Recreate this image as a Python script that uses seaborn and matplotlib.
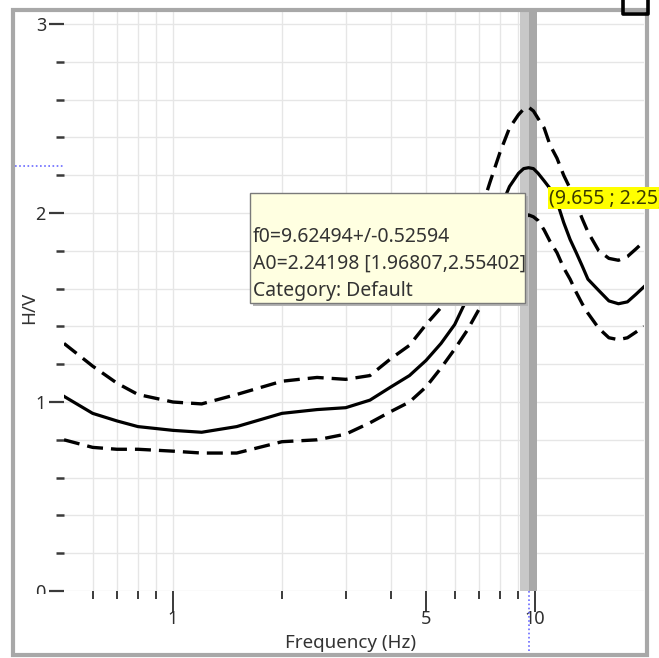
import numpy as np
import pandas as pd
import seaborn as sns
import matplotlib.pyplot as plt
from matplotlib.patches import Rectangle
from matplotlib.lines import Line2D
from matplotlib.ticker import NullFormatter

# H/V curve
freq = [0.5, 0.6, 0.7, 0.8, 1.0, 1.2, 1.5, 2.0, 2.5, 3.0, 3.5, 4.0, 4.5, 5.0, 5.5, 6.0, 6.5, 7.0, 7.5,
        8.0, 8.5, 9.0, 9.3, 9.6, 9.9, 10.2, 10.6, 11, 11.5, 12, 12.5, 13, 13.5, 14, 15, 16, 17, 18, 19, 20]
hv_median = [1.03, 0.94, 0.90, 0.87, 0.85, 0.84, 0.87, 0.94, 0.96, 0.97, 1.01, 1.08, 1.14, 1.22, 1.31,
             1.41, 1.55, 1.72, 1.88, 2.02, 2.14, 2.21, 2.235, 2.24, 2.235, 2.21, 2.17, 2.13, 2.06,
             1.95, 1.86, 1.79, 1.72, 1.65, 1.59, 1.535, 1.52, 1.53, 1.57, 1.61]
hv_upper = [1.31, 1.19, 1.10, 1.04, 1.00, 0.99, 1.04, 1.11, 1.13, 1.12, 1.14, 1.23, 1.30, 1.41, 1.50,
            1.66, 1.82, 1.98, 2.16, 2.32, 2.45, 2.52, 2.55, 2.56, 2.54, 2.50, 2.45, 2.36, 2.29,
            2.20, 2.13, 2.05, 1.97, 1.90, 1.80, 1.76, 1.75, 1.77, 1.81, 1.85]
hv_lower = [0.80, 0.76, 0.75, 0.75, 0.74, 0.73, 0.73, 0.79, 0.80, 0.83, 0.89, 0.95, 1.00, 1.08, 1.18,
            1.28, 1.38, 1.49, 1.63, 1.75, 1.85, 1.94, 1.97, 1.99, 1.98, 1.96, 1.91, 1.85, 1.79,
            1.71, 1.65, 1.58, 1.52, 1.47, 1.39, 1.34, 1.33, 1.34, 1.37, 1.40]

f0 = 9.62494
f0_std = 0.52594
a0, a0_lo, a0_hi = 2.24198, 1.96807, 2.55402
cursor_f, cursor_a = 9.655, 2.25

df = pd.DataFrame({'freq': freq, 'median': hv_median, 'upper': hv_upper, 'lower': hv_lower})

plt.rcParams['font.family'] = ['Noto Sans', 'DejaVu Sans']
W, H = 659, 658
fig = plt.figure(figsize=(W / 100, H / 100), dpi=100)
ax = fig.add_axes([64 / W, 1 - 591 / H, 580 / W, 583 / H])

# f0 +/- std band
ax.axvspan(f0 - f0_std, f0, color='#c8c8c8', lw=0, zorder=1)
ax.axvspan(f0, f0 + f0_std, color='#a8a8a8', lw=0, zorder=1)

# courbes
sns.lineplot(data=df, x='freq', y='median', ax=ax, color='black', linewidth=2.3, zorder=3)
sns.lineplot(data=df, x='freq', y='upper', ax=ax, color='black', linewidth=2.4,
             linestyle=(0, (4.8, 2.4)), zorder=3)
sns.lineplot(data=df, x='freq', y='lower', ax=ax, color='black', linewidth=2.4,
             linestyle=(0, (4.8, 2.4)), zorder=3)

ax.set_xscale('log')
ax.set_xlim(0.5, 20)
ax.set_ylim(0, 3.085)

ax.set_xticks([1, 5, 10])
ax.set_xticklabels(['1', '5', '10'], fontsize=13)
ax.set_xticks([0.6, 0.7, 0.8, 0.9, 2, 3, 4, 6, 7, 8, 9], minor=True)
ax.xaxis.set_minor_formatter(NullFormatter())
ax.set_yticks([0, 1, 2, 3])
ax.set_yticklabels(['0', '1', '2', '3'], fontsize=13)
ax.set_yticks([v / 5 for v in range(1, 15) if v % 5], minor=True)

ax.tick_params(axis='x', which='major', length=15, width=1.4, color='#3a3a3a', pad=-1,
               labelcolor='#2e2e2e')
ax.tick_params(axis='x', which='minor', length=6, width=1.4, color='#3a3a3a')
ax.tick_params(axis='y', which='major', length=11, width=1.6, color='#3a3a3a', pad=2,
               labelcolor='#2e2e2e')
ax.tick_params(axis='y', which='minor', length=6, width=1.8, color='#3a3a3a')

ax.grid(True, which='both', color='#e6e6e6', linewidth=1)
ax.set_axisbelow(True)
for s in ax.spines.values():
    s.set_visible(False)

ax.set_xlabel('Frequency (Hz)', fontsize=13.5, color='#333333')
ax.xaxis.label.set_va('baseline')
ax.xaxis.set_label_coords((351 - 64) / 580, -(648 - 591) / 583)
ax.set_ylabel('H/V', fontsize=13.5, color='#333333')
ax.yaxis.label.set_va('center')
ax.yaxis.set_label_coords((29 - 64) / 580, (591 - 308) / 583)

# the "0" label is cut off by the panel below the plot
fig.add_artist(Rectangle((25 / W, 1 - 612 / H), 27 / W, 18 / H, fc='white', ec='none',
                         transform=fig.transFigure, zorder=3))

# cursor crosshair
ax.plot([-(64 - 15) / 580, 0], [cursor_a, cursor_a], transform=ax.get_yaxis_transform(),
        color='#6a6aff', lw=1.2, ls=(0, (1, 1.5)), clip_on=False)
ax.plot([cursor_f, cursor_f], [0, -(655 - 591) / 583], transform=ax.get_xaxis_transform(),
        color='#6a6aff', lw=1.2, ls=(0, (1, 1.5)), clip_on=False)

# panel frame
fig.add_artist(Rectangle((12.5 / W, 1 - 655 / H), (647 - 12.5) / W, (655 - 9.5) / H,
                         fill=False, ec='#a8a8a8', lw=3, transform=fig.transFigure, zorder=4))
fig.add_artist(Line2D([623 / W, 623 / W, 648 / W, 648 / W], [1, 1 - 14 / H, 1 - 14 / H, 1],
                      color='black', lw=2.6, transform=fig.transFigure, zorder=5))

# tooltip
fig.add_artist(Rectangle((253 / W, 1 - 306 / H), 275 / W, 110 / H, fc='#b4b4b4', ec='none',
                         transform=fig.transFigure, zorder=6))
fig.add_artist(Rectangle((250 / W, 1 - 303 / H), 275 / W, 110 / H, fc='#ffffe1', ec='#7a7a7a',
                         lw=1, transform=fig.transFigure, zorder=7))
tip = [f'f0={f0}+/-{f0_std}', f'A0={a0} [{a0_lo},{a0_hi}]', 'Category: Default']
for line, yb in zip(tip, [242, 269, 296]):
    fig.text(253 / W, 1 - yb / H, line, fontsize=14, color='#333333', va='baseline', zorder=8)

fig.text(549 / W, 1 - 203 / H, f'({cursor_f} ; {cursor_a})', fontsize=14, color='#3a3a00',
         va='baseline', zorder=8,
         bbox=dict(boxstyle='square,pad=0.05', fc='#ffff00', ec='none'))

fig.savefig('out.png', dpi=100, facecolor='white')
